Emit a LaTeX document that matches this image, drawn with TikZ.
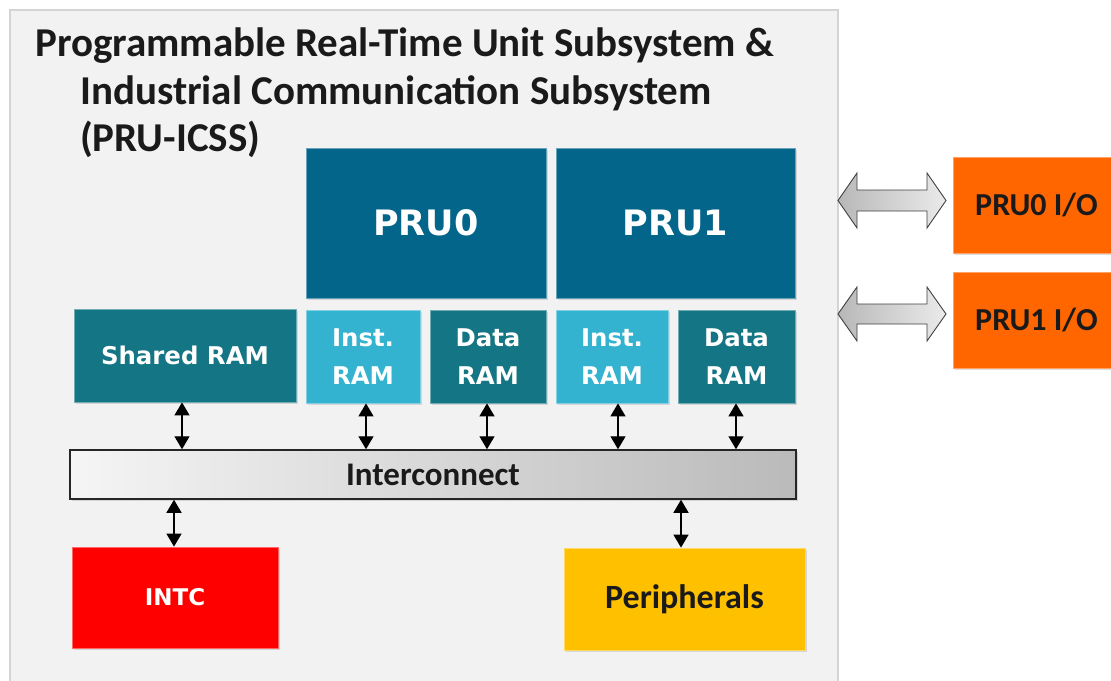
\documentclass[tikz,border=0pt]{standalone}
\usepackage{fontspec}
\setmainfont{Carlito}
\newfontfamily\dvfont{DejaVu Sans}
\usetikzlibrary{shadows,arrows.meta}
\definecolor{pru}{HTML}{03658A}
\definecolor{tealram}{HTML}{147584}
\definecolor{instram}{HTML}{33B3D0}
\definecolor{bgbox}{HTML}{F2F2F2}
\definecolor{bgline}{HTML}{D4D4D4}
\definecolor{intcred}{HTML}{FF0000}
\definecolor{peri}{HTML}{FFC000}
\definecolor{iocol}{HTML}{FF6600}
\definecolor{titlecol}{HTML}{1A1A1A}
\tikzset{
  blk/.style={draw=#1!60!white, line width=0.8pt, fill=#1, inner sep=0pt,
    drop shadow={shadow xshift=1.5pt, shadow yshift=-2pt, opacity=0.25}},
  wlabel/.style={text=white, font=\dvfont\bfseries, align=center},
  dbl/.style={line width=1.4pt, arrows={Triangle[width=15pt,length=13pt]-Triangle[width=15pt,length=13pt]}},
  blockarrow/.style={draw=black!75, line width=0.9pt, left color=black!28, right color=black!8},
  ttl/.style={anchor=base west, inner sep=0pt, text=titlecol, font=\fontsize{41}{46}\selectfont\bfseries}
}
\begin{document}
\begin{tikzpicture}[x=1pt,y=-1pt]
\clip (0,0) rectangle (1111,680);
\fill[white] (0,0) rectangle (1111,680);
% outer subsystem box
\draw[fill=bgbox, draw=bgline, line width=1.5pt] (10,10) rectangle (838,700);
% title
\node[ttl] (t1) at (35,56) {Programmable Real-Time Unit Subsystem \&};
\node[ttl] (t2) at (80,104) {Industrial Communication Subsystem};
\node[ttl] (t3) at (80,151) {(PRU-ICSS)};
% PRU cores
\node[blk=pru, minimum width=240, minimum height=150, wlabel, font=\dvfont\bfseries\fontsize{35}{40}\selectfont] (pru0) at (426,223) {PRU0};
\node[blk=pru, minimum width=239, minimum height=150, wlabel, font=\dvfont\bfseries\fontsize{35}{40}\selectfont] (pru1) at (675.5,223) {PRU1};
% RAMs
\node[blk=tealram, minimum width=222, minimum height=93, wlabel, font=\dvfont\bfseries\fontsize{24.4}{38}\selectfont] (shared) at (185,355.5) {Shared RAM};
\node[blk=instram, minimum width=114, minimum height=93, wlabel, font=\dvfont\bfseries\fontsize{24.4}{38}\selectfont] (inst0) at (363,356.5) {Inst.\\RAM};
\node[blk=tealram, minimum width=116, minimum height=93, wlabel, font=\dvfont\bfseries\fontsize{24.4}{38}\selectfont] (data0) at (488,356.5) {Data\\RAM};
\node[blk=instram, minimum width=112, minimum height=93, wlabel, font=\dvfont\bfseries\fontsize{24.4}{38}\selectfont] (inst1) at (612,356.5) {Inst.\\RAM};
\node[blk=tealram, minimum width=117, minimum height=93, wlabel, font=\dvfont\bfseries\fontsize{24.4}{38}\selectfont] (data1) at (736.5,356.5) {Data\\RAM};
% interconnect
\node[draw=black!85, line width=1.5pt, left color=black!4, right color=black!27, minimum width=726, minimum height=49, inner sep=0pt,
  drop shadow={shadow xshift=1.5pt, shadow yshift=-2pt, opacity=0.25},
  font=\fontsize{33}{38}\selectfont\bfseries, text=titlecol] (ic) at (433,474.5) {Interconnect};
% INTC and peripherals
\node[blk=intcred, minimum width=206, minimum height=101, wlabel, font=\dvfont\bfseries\fontsize{23}{30}\selectfont] (intc) at (175,597.5) {INTC};
\node[blk=peri, minimum width=241, minimum height=102, inner sep=0pt, text=titlecol, font=\fontsize{34}{38}\selectfont\bfseries] (per) at (684.5,599) {Peripherals};
% I/O boxes
\node[blk=iocol, minimum width=167, minimum height=96, inner sep=0pt, text=titlecol, font=\fontsize{32}{36}\selectfont\bfseries] (io0) at (1036.5,205) {PRU0 I/O};
\node[blk=iocol, minimum width=167, minimum height=96, inner sep=0pt, text=titlecol, font=\fontsize{32}{36}\selectfont\bfseries] (io1) at (1036.5,320) {PRU1 I/O};
% connector x positions
\coordinate (xs) at (182,0);
\coordinate (xi0) at (366,0);
\coordinate (xd0) at (487,0);
\coordinate (xi1) at (618,0);
\coordinate (xd1) at (736,0);
\coordinate (xin) at (174,0);
\coordinate (xpe) at (681,0);
\draw[dbl] (shared.south -| xs) -- (ic.north -| xs);
\draw[dbl] (inst0.south -| xi0) -- (ic.north -| xi0);
\draw[dbl] (data0.south -| xd0) -- (ic.north -| xd0);
\draw[dbl] (inst1.south -| xi1) -- (ic.north -| xi1);
\draw[dbl] (data1.south -| xd1) -- (ic.north -| xd1);
\draw[dbl] (ic.south -| xin) -- (intc.north -| xin);
\draw[dbl] (ic.south -| xpe) -- (per.north -| xpe);
% block double arrows
\draw[blockarrow] (838,200.5) -- (857,173) -- (857,190) -- (927,190) -- (927,173) -- (946,200.5)
  -- (927,228) -- (927,211) -- (857,211) -- (857,228) -- cycle;
\draw[blockarrow] (838,314) -- (857,287) -- (857,304) -- (927,304) -- (927,287) -- (946,314)
  -- (927,341) -- (927,324) -- (857,324) -- (857,341) -- cycle;
\end{tikzpicture}
\end{document}
